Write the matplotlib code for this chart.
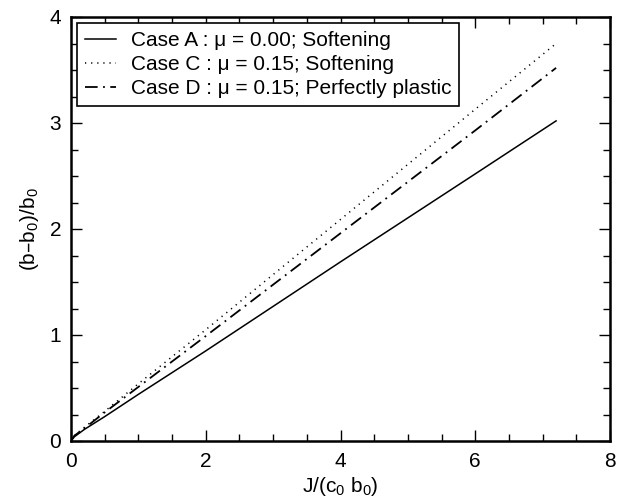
import numpy as np
import matplotlib.pyplot as plt
from matplotlib.ticker import MultipleLocator

plt.rcParams['font.family'] = ['Liberation Sans', 'DejaVu Sans']
plt.rcParams['mathtext.default'] = 'regular'

# normalised crack-extension curves
jA = [0.0, 0.05, 0.2, 0.5, 1.0, 2.0, 4.0, 6.0, 7.2]
bA = [0.0, 0.04, 0.11, 0.23, 0.44, 0.85, 1.69, 2.52, 3.02]

jC = [0.0, 0.05, 0.2, 0.5, 1.0, 2.0, 4.0, 6.0, 7.2]
bC = [0.0, 0.05, 0.13, 0.28, 0.54, 1.05, 2.09, 3.13, 3.75]

jD = [0.0, 0.05, 0.2, 0.5, 1.0, 2.0, 4.0, 6.0, 7.2]
bD = [0.0, 0.05, 0.12, 0.27, 0.51, 0.99, 1.96, 2.93, 3.52]

labels = ['Case A : \u03bc = 0.00; Softening',
          'Case C : \u03bc = 0.15; Softening',
          'Case D : \u03bc = 0.15; Perfectly plastic']

fig = plt.figure(figsize=(6.24, 5.01), dpi=100)
ax = fig.add_axes([71/624, 60/501, 539/624, 424/501])

ax.plot(jA, bA, color='k', lw=1.1, ls='-', label=labels[0])
ax.plot(jC, bC, color='k', lw=1.1, ls=(0, (0.8, 3.2)), label=labels[1])
ax.plot(jD, bD, color='k', lw=1.3, ls=(0, (7, 3, 1, 3)), label=labels[2])

ax.set_xlim(0, 8)
ax.set_ylim(0, 4)
ax.xaxis.set_major_locator(MultipleLocator(2))
ax.xaxis.set_minor_locator(MultipleLocator(0.5))
ax.yaxis.set_major_locator(MultipleLocator(1))
ax.yaxis.set_minor_locator(MultipleLocator(0.25))
ax.tick_params(which='both', direction='in', top=True, right=True,
               labelsize=15, width=1, pad=8)
ax.tick_params(axis='y', pad=7)
ax.tick_params(which='major', length=8)
ax.tick_params(which='minor', length=5)
for s in ax.spines.values():
    s.set_linewidth(1.8)

ax.set_xlabel('J/(c$_0$ b$_0$)', fontsize=15, labelpad=3)
ax.set_ylabel('(b\u2013b$_0$)/b$_0$', fontsize=15, labelpad=6)

leg = ax.legend(loc='upper left', fontsize=15, frameon=True, fancybox=False,
                edgecolor='k', framealpha=1, handlelength=1.5,
                handletextpad=0.7, borderpad=0.38, labelspacing=0.24,
                borderaxespad=0.3)
leg.get_frame().set_linewidth(1.2)

fig.savefig('out.png', dpi=100)
